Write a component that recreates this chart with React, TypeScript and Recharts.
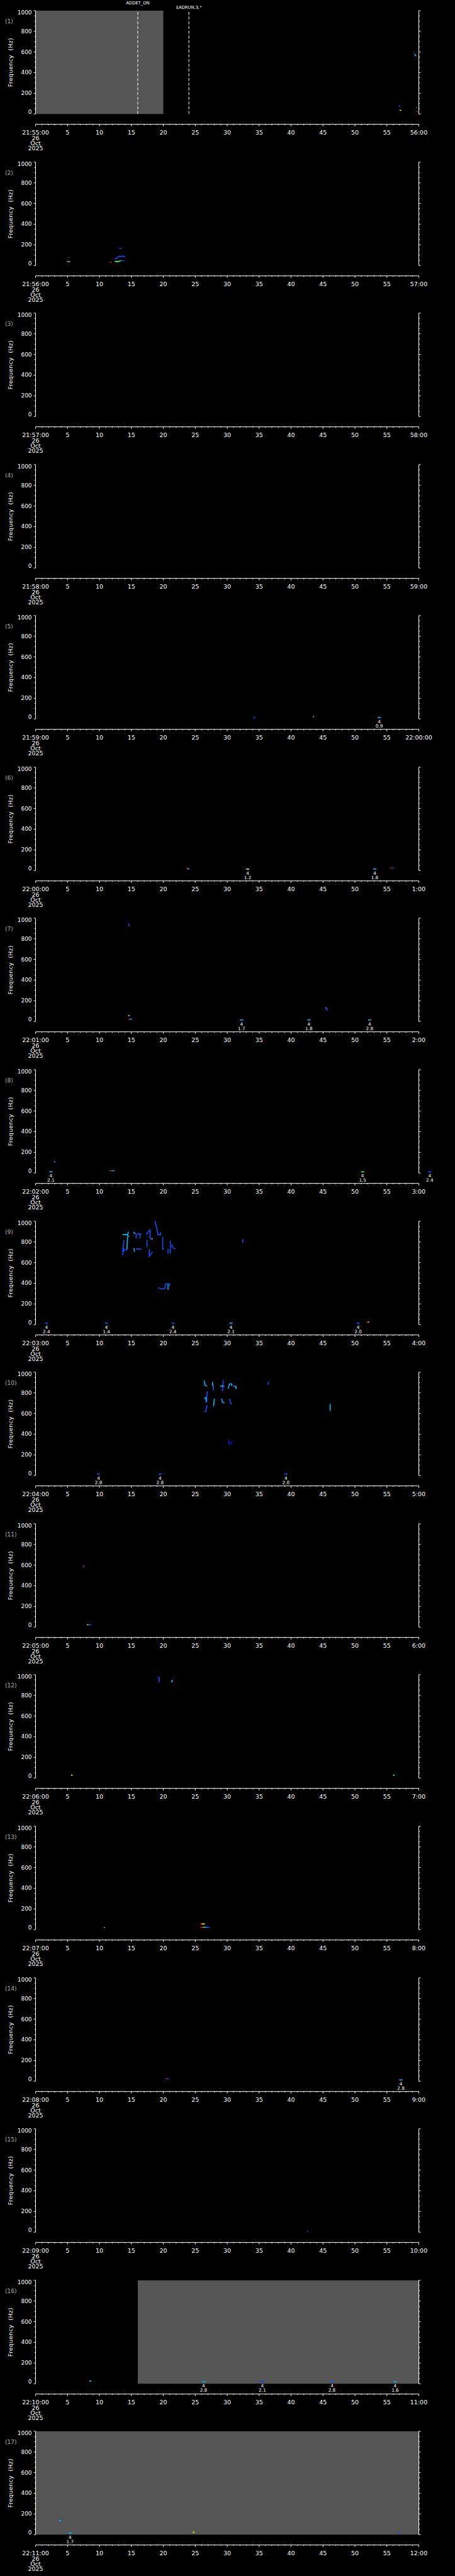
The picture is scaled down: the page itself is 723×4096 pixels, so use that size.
import React from 'react';
import { ComposedChart, Line, XAxis, YAxis, ReferenceArea, ReferenceLine, ReferenceDot } from 'recharts';

// ---------- data ----------
const startLabels = ["21:55:00","21:56:00","21:57:00","21:58:00","21:59:00","22:00:00","22:01:00","22:02:00","22:03:00","22:04:00","22:05:00","22:06:00","22:07:00","22:08:00","22:09:00","22:10:00","22:11:00"];
const endLabels = ["56:00","57:00","58:00","59:00","22:00:00","1:00","2:00","3:00","4:00","5:00","6:00","7:00","8:00","9:00","10:00","11:00","12:00"];
const dateLines = ["26", "Oct", "2025"];
const freqTicks = [0,50,100,150,200,250,300,350,400,450,500,550,600,650,700,750,800,850,900,950,1000];
const freqLabelTicks = [0,200,400,600,800,1000];
const secondTicks = [0,1,2,3,4,5,6,7,8,9,10,11,12,13,14,15,16,17,18,19,20,21,22,23,24,25,26,27,28,29,30,31,32,33,34,35,36,37,38,39,40,41,42,43,44,45,46,47,48,49,50,51,52,53,54,55,56,57,58,59,60];
const secondLabelTicks = [0,5,10,15,20,25,30,35,40,45,50,55,60];
const yLabel = "Frequency  (Hz)";

// traces: [intensity level, [[seconds, Hz], ...]]
const traces1 = [
  [3, [[59.3,580],[59.45,568],[59.6,560]]],
  [2, [[56.8,77],[57.1,77]]],
  [5, [[57.0,34],[57.25,36]]],
  [4, [[59.6,62],[59.7,62]]],
  [7, [[59.6,23],[59.8,23]]],
];
const traces2 = [
  [3, [[5.15,82],[5.2,77]]],
  [3, [[4.9,37],[5.1,37]]],
  [6, [[5.1,37],[5.4,37]]],
  [7, [[11.6,33],[11.9,33]]],
  [4, [[12.4,40],[12.9,37],[13.1,42],[13.4,47]]],
  [2, [[13.4,47],[13.9,47]]],
  [2, [[12.4,63],[12.7,72],[13.0,88],[13.9,90],[13.9,80]]],
  [2, [[13.1,167],[13.4,165]]],
];
const traces3 = [];
const traces4 = [];
const traces5 = [
  [2, [[34.1,14],[34.4,14]]],
  [4, [[43.4,22],[43.6,22]]],
];
const traces6 = [
  [7, [[23.6,23],[23.9,22]]],
  [3, [[23.8,17],[24.05,14]]],
  [7, [[55.5,22],[55.8,22]]],
  [2, [[55.8,22],[56.1,22]]],
];
const traces7 = [
  [2, [[14.5,945],[14.6,935],[14.75,918]]],
  [5, [[14.5,56],[14.75,56]]],
  [7, [[14.5,22],[14.7,22]]],
  [3, [[14.7,22],[15.1,22]]],
  [3, [[45.35,131],[45.55,131]]],
  [2, [[45.55,131],[45.65,112],[45.7,106]]],
];
const traces8 = [
  [3, [[2.9,112],[3.1,108]]],
  [7, [[11.6,22],[11.9,22]]],
  [3, [[11.9,22],[12.35,22]]],
];
const traces9 = [
  [2, [[13.85,817],[13.7,745],[13.62,671]]],
  [3, [[13.62,871],[14.4,871]]],
  [2, [[13.62,745],[13.75,740],[13.85,705]]],
  [3, [[14.53,900],[14.42,868],[14.3,724]]],
  [2, [[13.85,724],[14.3,724]]],
  [5, [[14.56,857],[14.62,853]]],
  [3, [[15.3,891],[15.67,881]]],
  [2, [[15.76,881],[15.76,834]]],
  [2, [[15.9,877],[16.35,877],[16.35,834]]],
  [2, [[16.4,874],[16.57,874]]],
  [3, [[15.4,738],[15.5,705]]],
  [2, [[15.67,738],[16.0,731],[16.57,731]]],
  [2, [[17.45,820],[17.45,752]]],
  [2, [[17.34,870],[17.93,917],[17.93,831]]],
  [3, [[18.02,831],[18.38,831]]],
  [2, [[17.8,731],[17.8,662],[18.0,675],[18.3,705]]],
  [2, [[18.7,1000],[18.93,946],[19.15,871],[19.6,871],[19.6,895]]],
  [2, [[19.9,848],[19.9,731],[20.1,731]]],
  [2, [[20.74,731],[20.74,688]]],
  [2, [[21.1,812],[21.1,688]]],
  [2, [[21.28,774],[21.5,745],[21.87,731]]],
  [2, [[19.29,358],[19.61,347],[20.2,347],[20.38,394],[20.97,394],[21.1,375]]],
  [3, [[20.74,387],[20.74,337]]],
  [2, [[32.44,828],[32.44,792]]],
  [7, [[51.8,24],[52.0,24]]],
  [5, [[52.0,24],[52.2,24]]],
];
const traces10 = [
  [3, [[26.41,920],[26.5,876],[26.86,866]]],
  [2, [[26.86,815],[26.77,708]]],
  [3, [[26.41,744],[26.7,754],[26.7,712]]],
  [2, [[26.86,683],[26.63,619],[26.41,619]]],
  [3, [[27.68,906],[27.8,860]]],
  [2, [[27.8,860],[27.86,823]]],
  [3, [[28.0,744],[27.86,672]]],
  [2, [[29.36,923],[29.27,823],[29.13,823]]],
  [3, [[28.9,866],[29.58,866]]],
  [3, [[29.13,744],[29.27,708],[29.58,701]]],
  [3, [[30.17,840],[30.35,887],[30.72,887],[30.72,866]]],
  [3, [[30.99,866],[31.4,862],[31.4,837]]],
  [2, [[30.35,744],[30.58,694],[30.72,694]]],
  [1, [[30.26,348],[30.26,305],[30.72,315],[30.72,330]]],
  [2, [[36.5,908],[36.38,880]]],
  [3, [[46.12,694],[46.12,625]]],
];
const traces11 = [
  [7, [[7.6,601],[7.55,590]]],
  [2, [[7.55,590],[7.5,577]]],
  [5, [[8.05,22],[8.3,22]]],
  [2, [[8.3,22],[8.75,22]]],
];
const traces12 = [
  [2, [[19.2,975],[19.35,972],[19.35,927]]],
  [3, [[21.2,935],[21.4,942],[21.3,927]]],
  [5, [[5.55,28],[5.8,28]]],
  [4, [[55.95,28],[56.2,28]]],
];
const traces13 = [
  [4, [[10.7,20],[10.85,20]]],
  [7, [[25.8,55],[26.05,55]]],
  [5, [[26.05,55],[26.5,55]]],
  [7, [[25.8,22],[26.2,22]]],
  [5, [[26.2,22],[26.5,22]]],
  [3, [[26.5,22],[26.9,22]]],
  [2, [[26.9,22],[27.3,22]]],
];
const traces14 = [
  [7, [[20.3,22],[20.55,22]]],
  [2, [[20.55,22],[20.9,22]]],
];
const traces15 = [[2, [[42.5,8],[42.65,8]]]];
const traces16 = [[3, [[8.4,25],[8.75,25]]]];
const traces17 = [
  [3, [[3.7,136],[4.0,136]]],
  [5, [[24.6,23],[24.9,23]]],
  [2, [[56.7,20],[57.0,20]]],
];

// detection marks: [seconds, Hz, level, class, value]
const marks5 = [[53.8,14,3,"4","0.9"]];
const marks6 = [[33.2,14,5,"4","1.2"],[53.1,14,3,"4","1.8"]];
const marks7 = [[32.25,14,3,"4","1.7"],[42.8,14,3,"4","1.8"],[52.3,14,3,"4","2.8"]];
const marks8 = [[2.4,12,3,"4","2.1"],[51.2,12,4,"4","1.5"],[61.7,12,2,"4","2.4"]];
const marks9 = [[1.7,14,2,"4","2.4"],[11.1,14,2,"4","1.4"],[21.5,14,2,"4","2.4"],[30.6,14,3,"4","2.1"],[50.5,14,2,"4","2.0"]];
const marks10 = [[9.85,15,2,"4","2.8"],[19.5,15,2,"4","2.8"],[39.2,15,2,"4","2.0"]];
const marks14 = [[57.2,12,3,"4","2.8"]];
const marks16 = [[26.3,19,3,"4","2.8"],[35.5,19,2,"4","2.1"],[46.4,19,2,"4","2.8"],[56.3,19,3,"4","1.6"]];
const marks17 = [[5.4,15,3,"4","1.7"]];

// gray no-data spans [from s, to s]
const shade1 = [[0,20]];
const shade16 = [[16,60]];
const shade17 = [[0,60]];

// event markers [seconds, text]
const events1 = [[16,"ADDET_ON"],[24,"$ADRUN,3,*"]];

const panels = [
  { traces: traces1, marks: [], shades: shade1, events: events1 },
  { traces: traces2, marks: [], shades: [], events: [] },
  { traces: traces3, marks: [], shades: [], events: [] },
  { traces: traces4, marks: [], shades: [], events: [] },
  { traces: traces5, marks: marks5, shades: [], events: [] },
  { traces: traces6, marks: marks6, shades: [], events: [] },
  { traces: traces7, marks: marks7, shades: [], events: [] },
  { traces: traces8, marks: marks8, shades: [], events: [] },
  { traces: traces9, marks: marks9, shades: [], events: [] },
  { traces: traces10, marks: marks10, shades: [], events: [] },
  { traces: traces11, marks: [], shades: [], events: [] },
  { traces: traces12, marks: [], shades: [], events: [] },
  { traces: traces13, marks: [], shades: [], events: [] },
  { traces: traces14, marks: marks14, shades: [], events: [] },
  { traces: traces15, marks: [], shades: [], events: [] },
  { traces: traces16, marks: marks16, shades: shade16, events: [] },
  { traces: traces17, marks: marks17, shades: shade17, events: [] },
];

// ---------- styles / layout ----------
const S = 0.705;
const W = 723;
const PANEL_H = 341.25 * S;
const CHART_H = 241;
const M_TOP = 24 * S;
const PLOT_H = 233 * S;
const GAP = 23.4 * S;
const LEFT_W = 56.5;
const RIGHT_W = W - 665.5;
const TIME_H = CHART_H - M_TOP - PLOT_H - GAP;
const FONT = "'DejaVu Sans', 'Liberation Sans', sans-serif";
const LEVEL_COLORS: Record<number, string> = {
  1: '#1414d8', 2: '#0a50ff', 3: '#00b8ff', 4: '#30ff70', 5: '#e6f000', 6: '#ff8a00', 7: '#e01515',
};
const GRAY = '#555555';
const EVENT_OFFSETS = [10, 3.2];

function LeftTick(props: any) {
  const { x, y, payload } = props;
  const v = payload.value;
  const major = freqLabelTicks.includes(v);
  let ly = y;
  if (v === 0) ly = y - 3;
  if (v === 1000) ly = y + 3;
  return (
    <g>
      <line x1={x} x2={x - (major ? 2.9 : 1.6)} y1={y} y2={y} stroke="#fff" strokeWidth={1} />
      {major && (
        <text x={x - 5.9} y={ly} textAnchor="end" dominantBaseline="central" fill="#fff" fontSize={9} fontFamily={FONT}>{v}</text>
      )}
    </g>
  );
}

function RightTick(props: any) {
  const { x, y, payload } = props;
  const major = freqLabelTicks.includes(payload.value);
  return <line x1={x} x2={x + (major ? 2.9 : 1.6)} y1={y} y2={y} stroke="#fff" strokeWidth={1} />;
}

function TimeTick(props: any) {
  const { x, y, payload, startLabel, endLabel } = props;
  const v = payload.value;
  const major = secondLabelTicks.includes(v);
  const label = major ? (v === 0 ? startLabel : v === 60 ? endLabel : String(v)) : null;
  return (
    <g>
      <line x1={x} x2={x} y1={y} y2={y + (major ? 3 : 1.5)} stroke="#fff" strokeWidth={1} />
      {label && (
        <text x={x} y={y + 12.7} textAnchor="middle" dominantBaseline="central" fill="#fff" fontSize={9.5} fontFamily={FONT}>{label}</text>
      )}
      {v === 0 && dateLines.map((d, i) => (
        <text key={i} x={x} y={y + 21.5 + i * 8.3} textAnchor="middle" dominantBaseline="central" fill="#fff" fontSize={9.5} fontFamily={FONT}>{d}</text>
      ))}
    </g>
  );
}

function MarkShape(props: any) {
  const { cx, cy, color, cls, value } = props;
  if (cx == null || cy == null) return null;
  return (
    <g>
      <line x1={cx - 2.6} x2={cx + 2.6} y1={cy} y2={cy} stroke={color} strokeWidth={1.6} />
      <text x={cx} y={cy + 6.7} textAnchor="middle" dominantBaseline="central" fill="#fff" fontSize={7.3} fontFamily={FONT}>{cls}</text>
      <text x={cx} y={cy + 13.4} textAnchor="middle" dominantBaseline="central" fill="#fff" fontSize={7.3} fontFamily={FONT}>{value}</text>
    </g>
  );
}

function Panel({ idx, panel }: { idx: number; panel: any }) {
  const plotMid = M_TOP + PLOT_H / 2;
  const sideLabel = () => (
    <g>
      <text x={8.1} y={M_TOP + 16.6} dominantBaseline="central" fill="#b0b0b0" fontSize={9} fontFamily={FONT}>{`(${idx + 1})`}</text>
      <text x={16.4} y={plotMid} textAnchor="middle" dominantBaseline="central" fill="#fff" fontSize={9.2} fontFamily={FONT}
        transform={`rotate(-90 16.4 ${plotMid})`} style={{ whiteSpace: 'pre', letterSpacing: '0.4px' }}>{yLabel}</text>
    </g>
  );
  return (
    <ComposedChart width={W} height={CHART_H} margin={{ top: M_TOP, right: 0, bottom: 0, left: 0 }}>
      <XAxis xAxisId="p" dataKey="t" type="number" domain={[0, 60]} allowDataOverflow height={GAP}
        axisLine={false} tickLine={false} tick={false} />
      <XAxis xAxisId="t" dataKey="t" type="number" domain={[0, 60]} allowDataOverflow height={TIME_H}
        ticks={secondTicks} interval={0} tickSize={0} tickMargin={0} tickLine={false}
        axisLine={{ stroke: '#fff', strokeWidth: 1 }}
        tick={(p: any) => <TimeTick {...p} startLabel={startLabels[idx]} endLabel={endLabels[idx]} />} />
      <YAxis yAxisId="l" orientation="left" type="number" domain={[0, 1000]} allowDataOverflow width={LEFT_W}
        ticks={freqTicks} interval={0} tickSize={0} tickMargin={0} tickLine={false}
        axisLine={{ stroke: '#fff', strokeWidth: 1 }} tick={(p: any) => <LeftTick {...p} />}
        label={sideLabel} />
      <YAxis yAxisId="r" orientation="right" type="number" domain={[0, 1000]} allowDataOverflow width={RIGHT_W}
        ticks={freqTicks} interval={0} tickSize={0} tickMargin={0} tickLine={false}
        axisLine={{ stroke: '#fff', strokeWidth: 1 }} tick={(p: any) => <RightTick {...p} />} />
      {panel.shades.map((s: number[], i: number) => (
        <ReferenceArea key={`s${i}`} xAxisId="p" yAxisId="l" x1={s[0]} x2={s[1]} y1={0} y2={1000}
          fill={GRAY} fillOpacity={1} stroke="none" ifOverflow="visible" />
      ))}
      {panel.events.map((e: any[], i: number) => (
        <ReferenceLine key={`e${i}`} xAxisId="p" yAxisId="l" x={e[0]} stroke="#fff" strokeWidth={1}
          strokeDasharray="4.7 2.8" ifOverflow="visible"
          label={{ value: e[1], position: 'top', offset: EVENT_OFFSETS[i], fill: '#fff', fontSize: 6.8, fontFamily: FONT }} />
      ))}
      {panel.traces.map((tr: any[], i: number) => (
        <Line key={`l${i}`} xAxisId="p" yAxisId="l" data={tr[1].map((pt: number[]) => ({ t: pt[0], f: pt[1] }))}
          dataKey="f" type="linear" stroke={LEVEL_COLORS[tr[0]]} strokeWidth={1.6} dot={false} activeDot={false}
          isAnimationActive={false} />
      ))}
      {panel.marks.map((m: any[], i: number) => (
        <ReferenceDot key={`m${i}`} xAxisId="p" yAxisId="l" x={m[0]} y={m[1]} r={2} ifOverflow="visible"
          shape={(p: any) => <MarkShape {...p} color={LEVEL_COLORS[m[2]]} cls={m[3]} value={m[4]} />} />
      ))}
    </ComposedChart>
  );
}

export default function App() {
  return (
    <div style={{ position: 'absolute', left: 0, top: 0, width: W, height: 4096, background: '#000', overflow: 'hidden' }}>
      {panels.map((p, i) => (
        <div key={i} style={{ position: 'absolute', left: 0, top: Math.round(i * PANEL_H), width: W, height: CHART_H }}>
          <Panel idx={i} panel={p} />
        </div>
      ))}
    </div>
  );
}
